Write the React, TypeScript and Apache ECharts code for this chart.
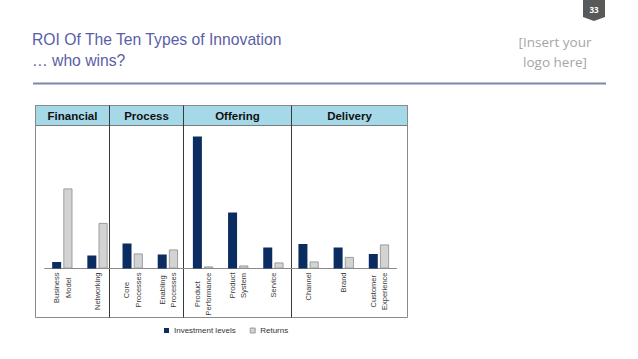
import React, { useEffect, useRef } from "react";
import * as echarts from "echarts";

const categories = [
  "Business\nModel",
  "Networking",
  "Core\nProcesses",
  "Enabling\nProcesses",
  "Product\nPerformance",
  "Product\nSystem",
  "Service",
  "Channel",
  "Brand",
  "Customer\nExperience",
];
const investmentLevels = [6.5, 13, 25, 14, 132, 56, 21, 24.5, 21, 14.5];
const returns = [80, 45.5, 15, 19, 2, 3, 6, 7, 11.5, 24];
const seriesNames = ["Investment levels", "Returns"];
const groupLabels = ["Financial", "Process", "Offering", "Delivery"];
const titleLines = ["ROI Of The Ten Types of Innovation", "\u2026 who wins?"];
const logoLines = ["[Insert your", "logo here]"];
const pageNumber = "33";

const NAVY = "#0b2c60";
const GREY = "#d3d3d3";
const GREY_BORDER = "#8c8c8c";

export default function App() {
  const ref = useRef<HTMLDivElement>(null);

  useEffect(() => {
    if (!ref.current) return;
    const chart = echarts.init(ref.current, null, { renderer: "svg" });

    const frameL = 35.5;
    const frameR = 407.5;
    const frameT = 105.5;
    const frameB = 317.5;
    const headerB = 125.5;
    const dividers = [109.5, 183.5, 291.5];
    const bounds = [frameL, ...dividers, frameR];

    const graphic: any[] = [];
    graphic.push({
      type: "rect",
      shape: { x: frameL, y: frameT, width: frameR - frameL, height: headerB - frameT },
      style: { fill: "#a6d9e8", stroke: "#7a7a7a", lineWidth: 1 },
      silent: true,
    });
    graphic.push({
      type: "rect",
      shape: { x: frameL, y: frameT, width: frameR - frameL, height: frameB - frameT },
      style: { fill: "none", stroke: "#8a8a8a", lineWidth: 1 },
      silent: true,
    });
    dividers.forEach((x) => {
      graphic.push({
        type: "line",
        shape: { x1: x, y1: frameT, x2: x, y2: frameB },
        style: { stroke: "#3a3a3a", lineWidth: 1 },
        silent: true,
      });
    });
    groupLabels.forEach((g, i) => {
      graphic.push({
        type: "text",
        x: (bounds[i] + bounds[i + 1]) / 2,
        y: (frameT + headerB) / 2 + 0.5,
        style: {
          text: g,
          fill: "#111111",
          font: "bold 11.5px 'Liberation Sans', Arial, sans-serif",
          textAlign: "center",
          textVerticalAlign: "middle",
        },
        silent: true,
      });
    });
    titleLines.forEach((t, i) => {
      graphic.push({
        type: "text",
        x: 32,
        y: 39 + i * 21,
        style: {
          text: t,
          fill: "#5a5ea6",
          font: "15.7px 'Liberation Sans', Arial, sans-serif",
          textAlign: "left",
          textVerticalAlign: "middle",
        },
        silent: true,
      });
    });
    logoLines.forEach((t, i) => {
      graphic.push({
        type: "text",
        x: 555,
        y: 42 + i * 20,
        style: {
          text: t,
          fill: "#a6a6a6",
          font: "13.5px 'Open Sans', sans-serif",
          textAlign: "center",
          textVerticalAlign: "middle",
        },
        silent: true,
      });
    });
    graphic.push({
      type: "line",
      shape: { x1: 33, y1: 83.5, x2: 606, y2: 83.5 },
      style: { stroke: "#7f86ad", lineWidth: 2 },
      silent: true,
    });
    graphic.push({
      type: "polygon",
      shape: { points: [[583, 0], [605, 0], [605, 17], [594, 21], [583, 17]] },
      style: { fill: "#595959" },
      silent: true,
    });
    graphic.push({
      type: "text",
      x: 594,
      y: 9.5,
      style: {
        text: pageNumber,
        fill: "#ffffff",
        font: "bold 8px 'Open Sans', sans-serif",
        textAlign: "center",
        textVerticalAlign: "middle",
      },
      silent: true,
    });

    chart.setOption({
      animation: false,
      backgroundColor: "#ffffff",
      grid: { left: 44.7, width: 351.8, top: 128.5, height: 140 },
      legend: {
        left: 159,
        top: 321.5,
        itemWidth: 5,
        itemHeight: 5,
        itemGap: 14,
        icon: "rect",
        textStyle: {
          fontSize: 8,
          color: "#333333",
          fontFamily: "'Liberation Sans', Arial, sans-serif",
        },
        data: [
          { name: seriesNames[0], itemStyle: { color: NAVY } },
          { name: seriesNames[1], itemStyle: { color: GREY, borderColor: GREY_BORDER, borderWidth: 0.8 } },
        ],
      },
      xAxis: {
        type: "category",
        data: categories,
        axisLine: { lineStyle: { color: "#8a8a8a", width: 1 } },
        axisTick: { length: 3, lineStyle: { color: "#8a8a8a" } },
        axisLabel: {
          rotate: 90,
          margin: 4,
          interval: 0,
          fontSize: 7.5,
          color: "#3a3a3a",
          fontFamily: "'Liberation Sans', Arial, sans-serif",
          lineHeight: 11.5,
          formatter: (v: string) => v.split("\n").map((s) => `{c|${s}}`).join("\n"),
          rich: {
            c: {
              align: "center",
              fontSize: 7.5,
              lineHeight: 11.5,
              color: "#3a3a3a",
              fontFamily: "'Liberation Sans', Arial, sans-serif",
            },
          },
        },
      },
      yAxis: {
        type: "value",
        min: 0,
        max: 140,
        show: false,
        splitLine: { show: false },
      },
      series: [
        {
          name: seriesNames[0],
          type: "bar",
          data: investmentLevels,
          barWidth: 9,
          barGap: "25%",
          itemStyle: { color: NAVY },
        },
        {
          name: seriesNames[1],
          type: "bar",
          data: returns,
          barWidth: 9,
          itemStyle: { color: GREY, borderColor: GREY_BORDER, borderWidth: 0.8 },
        },
      ],
      graphic,
    });

    return () => chart.dispose();
  }, []);

  return (
    <div
      ref={ref}
      style={{ position: "fixed", left: 0, top: 0, width: 638, height: 359 }}
    />
  );
}
